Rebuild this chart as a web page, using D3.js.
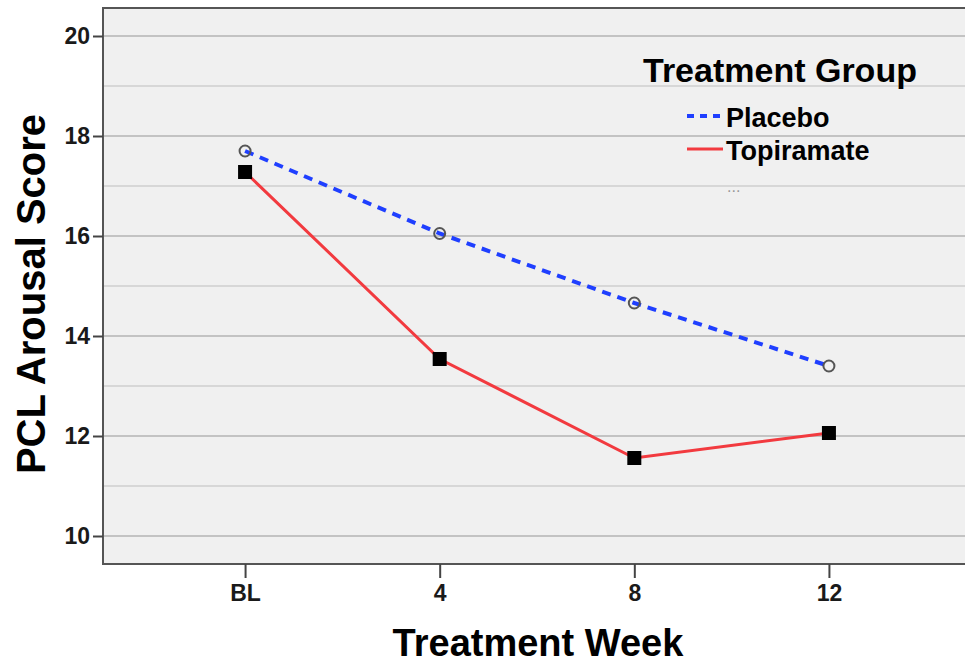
<!DOCTYPE html>
<meta charset="utf-8">
<html>
<head>
  <script src="https://d3js.org/d3.v7.min.js" charset="utf-8"></script>
  <style>
    body {
      margin: 0;
      background-color: #ffffff;
    }
    svg text {
      font-family: 'Liberation Sans', Arial, sans-serif;
    }
  </style>
</head>
<body>
  <script>
    // Data
    var weeks = ['BL', '4', '8', '12'];
    var placebo = [17.7, 16.05, 14.66, 13.4];
    var topiramate = [17.28, 13.54, 11.56, 12.06];
    var yTicks = [10, 12, 14, 16, 18, 20];
    var yGrid = [10, 11, 12, 13, 14, 15, 16, 17, 18, 19, 20];
    var groups = ['Placebo', 'Topiramate'];

    //Margin conventions
    var W = 965, H = 666;
    var m = { top: 8, right: -6, bottom: 102, left: 103 };
    var w = W - m.left - m.right,
      h = H - m.top - m.bottom;

    var svg = d3.select('body')
      .append('svg')
      .attr('width', W)
      .attr('height', H)
      .append('g')
      .attr('transform', `translate(${m.left}, ${m.top})`);

    //Scales
    var x = d3.scalePoint()
      .domain(weeks)
      .range([0, w])
      .padding(0.73);

    var y = d3.scaleLinear()
      .domain([9.44, 20.56])
      .range([h, 0]);

    //Plot background
    svg.append('rect')
      .attr('width', w)
      .attr('height', h)
      .attr('fill', '#f0f0f0');

    //Gridlines
    svg.selectAll('.grid')
      .data(yGrid)
      .enter()
      .append('line')
      .attr('class', 'grid')
      .attr('x1', 0)
      .attr('x2', w)
      .attr('y1', d => y(d))
      .attr('y2', d => y(d))
      .attr('stroke', d => d % 2 === 0 ? '#b4b4b4' : '#cfcfcf')
      .attr('stroke-width', 1.6);

    //Frame
    svg.append('rect')
      .attr('width', w)
      .attr('height', h)
      .attr('fill', 'none')
      .attr('stroke', '#555')
      .attr('stroke-width', 2);

    //Y axis
    var yAxis = svg.append('g')
      .call(d3.axisLeft(y)
        .tickValues(yTicks)
        .tickSize(10)
        .tickPadding(3)
        .tickFormat(d3.format('d')));
    yAxis.select('.domain').remove();
    yAxis.selectAll('line').attr('stroke', '#444').attr('stroke-width', 2);

    //X axis
    var xAxis = svg.append('g')
      .attr('transform', `translate(0, ${h})`)
      .call(d3.axisBottom(x)
        .tickSize(14)
        .tickPadding(7));
    xAxis.select('.domain').remove();
    xAxis.selectAll('line').attr('stroke', '#444').attr('stroke-width', 2);

    svg.selectAll('.tick text')
      .style('font-size', '23px')
      .style('font-family', "'Liberation Sans', Arial, sans-serif")
      .style('font-weight', 'bold')
      .attr('fill', '#1a1a1a');

    //Lines
    var line = d3.line()
      .x((d, i) => x(weeks[i]))
      .y(d => y(d));

    svg.append('path')
      .datum(placebo)
      .attr('d', line)
      .attr('fill', 'none')
      .attr('stroke', '#1f3fff')
      .attr('stroke-width', 4)
      .attr('stroke-dasharray', '9,7');

    svg.append('path')
      .datum(topiramate)
      .attr('d', line)
      .attr('fill', 'none')
      .attr('stroke', '#f23a3f')
      .attr('stroke-width', 3);

    //Markers
    svg.selectAll('.circ')
      .data(placebo)
      .enter()
      .append('circle')
      .attr('class', 'circ')
      .attr('cx', (d, i) => x(weeks[i]))
      .attr('cy', d => y(d))
      .attr('r', 5.5)
      .attr('fill', 'none')
      .attr('stroke', '#555')
      .attr('stroke-width', 2);

    svg.selectAll('.sq')
      .data(topiramate)
      .enter()
      .append('rect')
      .attr('class', 'sq')
      .attr('x', (d, i) => x(weeks[i]) - 7)
      .attr('y', d => y(d) - 7)
      .attr('width', 14)
      .attr('height', 14)
      .attr('fill', '#000');

    //Axis titles
    svg.append('text')
      .attr('transform', `translate(${-58}, ${h / 2 + 8}) rotate(-90)`)
      .attr('text-anchor', 'middle')
      .style('font-size', '40px')
      .style('font-weight', 'bold')
      .text('PCL Arousal Score');

    svg.append('text')
      .attr('x', 435)
      .attr('y', h + 92)
      .attr('text-anchor', 'middle')
      .style('font-size', '38px')
      .style('font-weight', 'bold')
      .text('Treatment Week');

    //Legend
    var lg = svg.append('g')
      .attr('transform', 'translate(540, 0)');

    lg.append('text')
      .attr('x', 0)
      .attr('y', 74)
      .style('font-size', '34px')
      .style('font-weight', 'bold')
      .text('Treatment Group');

    var items = lg.selectAll('.item')
      .data(groups)
      .enter()
      .append('g')
      .attr('transform', (d, i) => `translate(0, ${108 + i * 33})`);

    items.append('line')
      .attr('x1', 44)
      .attr('x2', 80)
      .attr('stroke', (d, i) => i === 0 ? '#1f3fff' : '#f23a3f')
      .attr('stroke-width', (d, i) => i === 0 ? 4 : 3)
      .attr('stroke-dasharray', (d, i) => i === 0 ? '7,6' : null);

    items.append('text')
      .attr('x', 83)
      .attr('y', 11)
      .style('font-size', '27px')
      .style('font-weight', 'bold')
      .text(d => d);

    lg.append('text')
      .attr('x', 84)
      .attr('y', 184)
      .style('font-size', '16px')
      .style('fill', '#999')
      .text('...');
  </script>
</body>
</html>
